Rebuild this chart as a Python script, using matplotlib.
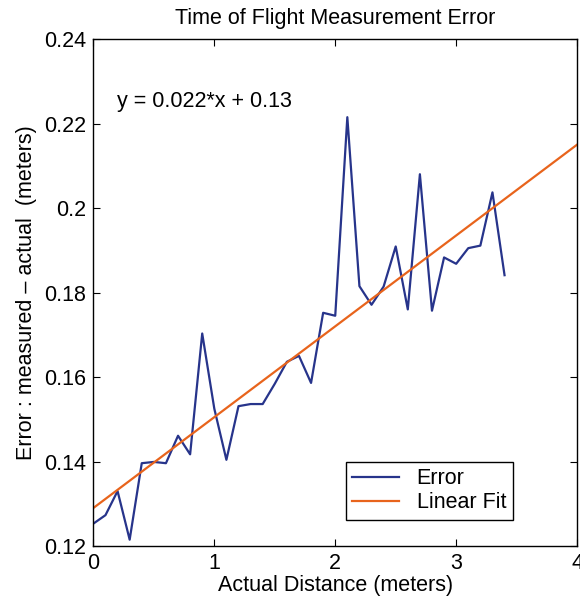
import numpy as np
import matplotlib
matplotlib.use('Agg')
import matplotlib.pyplot as plt

plt.rcParams['font.family'] = ['Liberation Sans', 'DejaVu Sans']

# measured error vs actual distance
distance = [0.0, 0.1, 0.2, 0.3, 0.4, 0.5, 0.6, 0.7, 0.8, 0.9,
            1.0, 1.1, 1.2, 1.3, 1.4, 1.5, 1.6, 1.7, 1.8, 1.9,
            2.0, 2.1, 2.2, 2.3, 2.4, 2.5, 2.6, 2.7, 2.8, 2.9,
            3.0, 3.1, 3.2, 3.3, 3.4]
error = [0.1253, 0.1273, 0.1330, 0.1215, 0.1396, 0.1399, 0.1396, 0.1461, 0.1417, 0.1703,
         0.1525, 0.1404, 0.1531, 0.1536, 0.1536, 0.1584, 0.1636, 0.1650, 0.1586, 0.1752,
         0.1745, 0.2215, 0.1815, 0.1771, 0.1814, 0.1909, 0.1760, 0.2080, 0.1757, 0.1883,
         0.1868, 0.1905, 0.1911, 0.2037, 0.1841]

# linear fit end points
fit_x = [0.0, 4.0]
fit_y = [0.1290, 0.2150]

xticks = [0, 1, 2, 3, 4]
yticks = [0.12, 0.14, 0.16, 0.18, 0.20, 0.22, 0.24]
ytick_labels = ['0.12', '0.14', '0.16', '0.18', '0.2', '0.22', '0.24']

fig = plt.figure(figsize=(5.8, 6.06), dpi=100)
ax = fig.add_axes([0.161, 0.099, 0.834, 0.8366])

ax.plot(distance, error, color='#27348b', lw=1.6, label='Error')
ax.plot(fit_x, fit_y, color='#e8641c', lw=1.6, label='Linear Fit')

ax.set_xlim(0, 4)
ax.set_ylim(0.12, 0.24)
ax.set_xticks(xticks)
ax.set_xticklabels([str(t) for t in xticks])
ax.set_yticks(yticks)
ax.set_yticklabels(ytick_labels)
ax.tick_params(direction='in', top=True, right=True, length=5, width=0.8,
               labelsize=15.5, pad=5)
for s in ax.spines.values():
    s.set_linewidth(1.0)

ax.set_title('Time of Flight Measurement Error', fontsize=15.5, pad=11)
ax.set_xlabel('Actual Distance (meters)', fontsize=15.5, labelpad=1)
ax.set_ylabel('Error : measured \u2013 actual  (meters)', fontsize=15.5, labelpad=5)

ax.text(0.194, 0.2251, 'y = 0.022*x + 0.13', fontsize=15.5, va='center', ha='left')

leg = ax.legend(loc='center', bbox_to_anchor=(0.694, 0.109), fontsize=15.5,
                fancybox=False, framealpha=1, edgecolor='black',
                handlelength=2.2, borderpad=0.3, labelspacing=0.15)
leg.get_frame().set_linewidth(1.0)

fig.savefig('out.png', dpi=100)
